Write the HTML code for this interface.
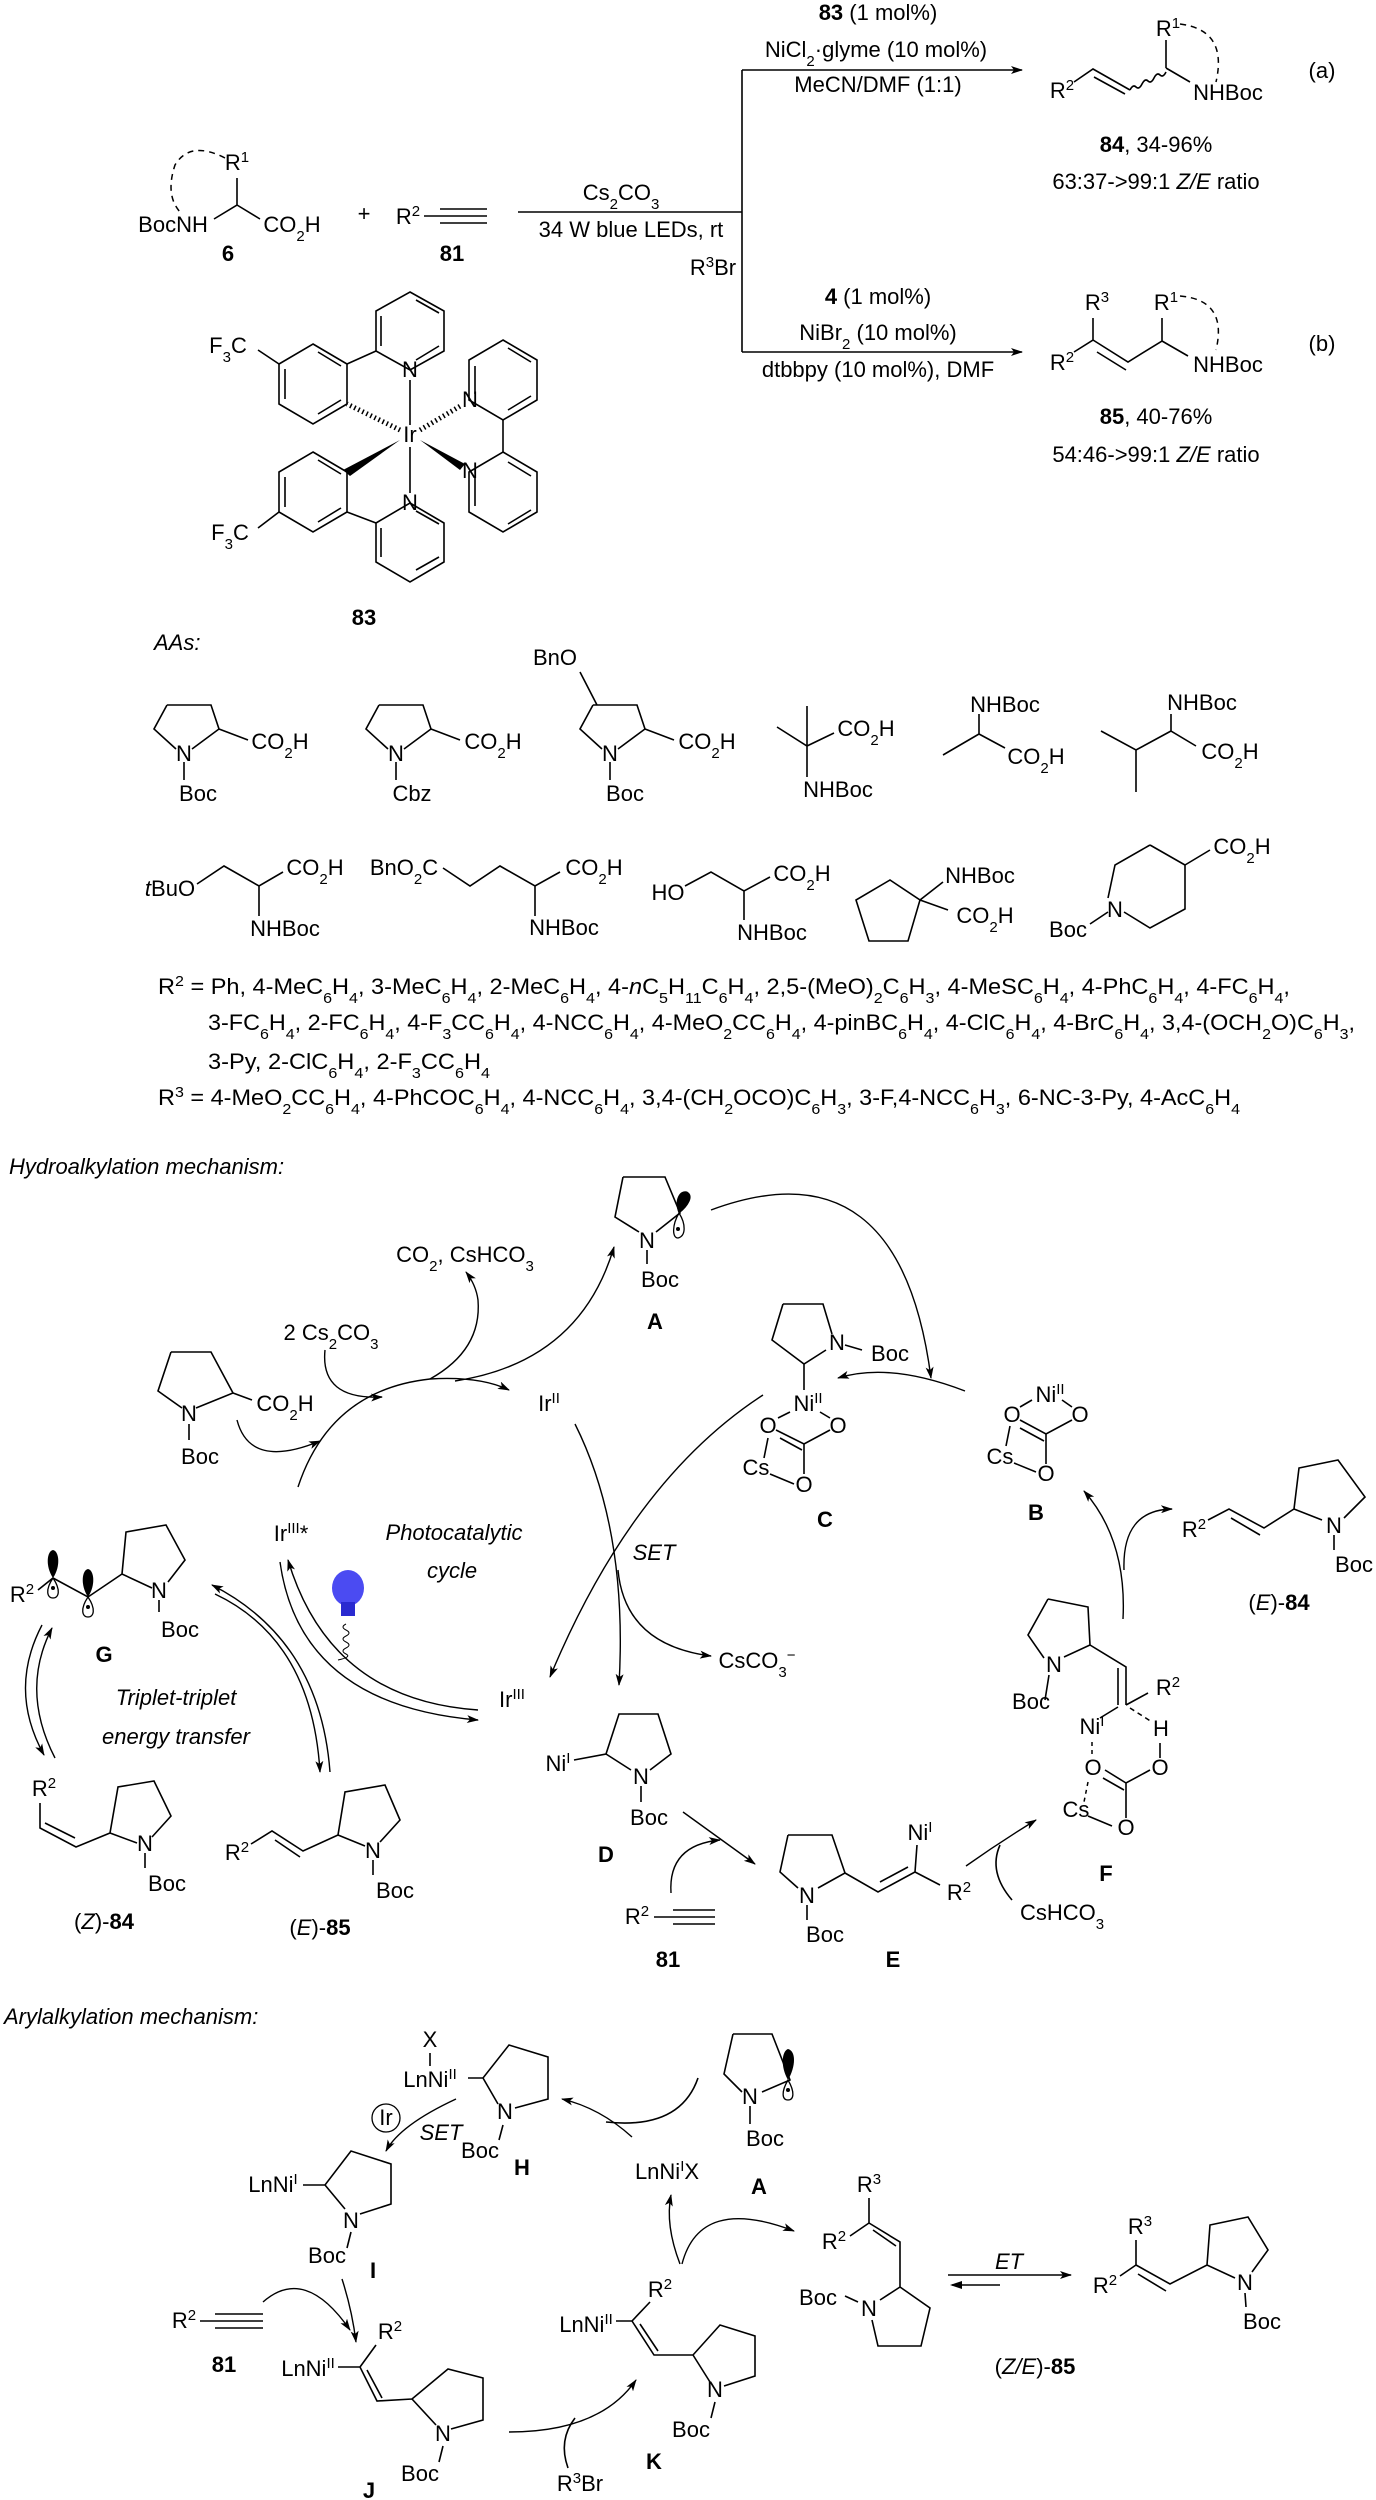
<!DOCTYPE html>
<html><head><meta charset="utf-8"><style>
html,body{margin:0;padding:0;background:#fff}
svg{display:block}
text{font-family:"Liberation Sans",Arial,sans-serif;font-size:22px;fill:#000}
.c{text-anchor:middle}
.i{font-style:italic}
.b{font-weight:bold}
.d{font-size:15px;baseline-shift:sub}
.u{font-size:15px;baseline-shift:super}
.l{fill:none;stroke:#000;stroke-width:1.6}
.a{fill:none;stroke:#000;stroke-width:1.4;marker-end:url(#ar)}
.ds{fill:none;stroke:#000;stroke-width:1.5;stroke-dasharray:6 5}
</style></head><body>
<svg width="1376" height="2500" viewBox="0 0 1376 2500" xmlns="http://www.w3.org/2000/svg">
<defs><marker id="ar" markerWidth="12" markerHeight="8" refX="11" refY="4" orient="auto" markerUnits="userSpaceOnUse"><path d="M0,0 L12,4 L0,8 L3,4z" fill="#000"/></marker></defs>

<!-- ===== Top reaction ===== -->
<text x="878" y="20" class="c"><tspan class="b">83</tspan> (1 mol%)</text>
<text x="876" y="57" class="c">NiCl<tspan class="d">2</tspan><tspan dy="0">·glyme (10 mol%)</tspan></text>
<path class="a" d="M742,70 L1022,70"/>
<text x="878" y="92" class="c">MeCN/DMF (1:1)</text>
<path class="l" d="M742,70 L742,352"/>
<path class="a" d="M518,212 L742,212" style="marker-end:none"/>
<text x="621" y="200" class="c">Cs<tspan class="d">2</tspan>CO<tspan class="d">3</tspan></text>
<text x="631" y="237" class="c">34 W blue LEDs, rt</text>
<text x="713" y="275" class="c">R<tspan class="u">3</tspan>Br</text>
<path class="a" d="M742,352 L1022,352"/>
<text x="878" y="304" class="c"><tspan class="b">4</tspan> (1 mol%)</text>
<text x="878" y="340" class="c">NiBr<tspan class="d">2</tspan> (10 mol%)</text>
<text x="878" y="377" class="c">dtbbpy (10 mol%), DMF</text>

<!-- product 84 -->
<text x="1062" y="98" class="c">R<tspan class="u">2</tspan></text>
<path class="l" d="M1074,82 L1093,69 L1130,90 M1094,77 L1125,94"/>
<path class="l" d="M1130,90 q3,-6 6,-3 t6,-3 t6,-3 t6,-3 t6,-3 t6,-3"/>
<path class="l" d="M1166,68 L1166,40 M1166,68 L1190,82"/>
<text x="1168" y="36" class="c">R<tspan class="u">1</tspan></text>
<text x="1228" y="100" class="c">NHBoc</text>
<path class="ds" d="M1180,24 Q1228,30 1216,82"/>
<text x="1322" y="78" class="c">(a)</text>
<text x="1156" y="152" class="c"><tspan class="b">84</tspan>, 34-96%</text>
<text x="1156" y="189" class="c">63:37-&gt;99:1 <tspan class="i">Z/E</tspan> ratio</text>

<!-- product 85 -->
<text x="1097" y="310" class="c">R<tspan class="u">3</tspan></text>
<text x="1166" y="310" class="c">R<tspan class="u">1</tspan></text>
<text x="1062" y="370" class="c">R<tspan class="u">2</tspan></text>
<text x="1228" y="372" class="c">NHBoc</text>
<path class="l" d="M1093,318 L1093,340 L1074,352 M1093,340 L1128,362 L1162,341 L1162,318 M1162,341 L1188,356 M1097,352 L1126,370"/>
<path class="ds" d="M1180,296 Q1228,300 1216,350"/>
<text x="1322" y="351" class="c">(b)</text>
<text x="1156" y="424" class="c"><tspan class="b">85</tspan>, 40-76%</text>
<text x="1156" y="462" class="c">54:46-&gt;99:1 <tspan class="i">Z/E</tspan> ratio</text>

<!-- compound 6 -->
<text x="237" y="170" class="c">R<tspan class="u">1</tspan></text>
<path class="l" d="M237,178 L237,205 L214,219 M237,205 L260,219"/>
<path class="ds" d="M225,158 Q190,140 175,165 Q165,195 180,212"/>
<text x="173" y="232" class="c">BocNH</text>
<text x="292" y="232" class="c">CO<tspan class="d">2</tspan>H</text>
<text x="228" y="261" class="c b">6</text>
<text x="364" y="221" class="c">+</text>
<text x="408" y="224" class="c">R<tspan class="u">2</tspan></text>
<path class="l" d="M424,216 L440,216 M440,209 L487,209 M440,216 L487,216 M440,223 L487,223"/>
<text x="452" y="261" class="c b">81</text>

<!-- Ir complex 83 -->
<g class="l">
<path d="M410,292 L444,311 L444,351 L410,370 L376,351 L376,311Z M416,300 L439,313 M439,346 L416,360 M381,346 L381,316"/>
<path d="M313,344 L347,364 L347,404 L313,424 L279,404 L279,364Z M318,352 L341,366 M341,400 L318,414 M285,399 L285,369"/>
<path d="M376,351 L347,364 M279,364 L258,350"/>
<path d="M503,340 L537,360 L537,400 L503,420 L469,400 L469,360Z M508,348 L531,362 M531,396 L508,410 M475,366 L475,394"/>
<path d="M503,452 L537,472 L537,512 L503,532 L469,512 L469,472Z M508,524 L531,510 M531,476 L508,462 M475,478 L475,506"/>
<path d="M503,420 L503,452"/>
<path d="M313,452 L347,472 L347,512 L313,532 L279,512 L279,472Z M318,460 L341,474 M341,508 L318,522 M285,507 L285,477"/>
<path d="M279,512 L258,528"/>
<path d="M410,503 L444,523 L444,562 L410,582 L376,562 L376,523Z M416,511 L439,524 M439,557 L416,570 M381,557 L381,528"/>
<path d="M347,512 L376,523"/>
<path d="M410,380 L410,425 M410,447 L410,493"/>
</g>
<path d="M400,430 L347,404" stroke="#000" stroke-width="5" stroke-dasharray="1.5 3" fill="none"/>
<path d="M420,430 L462,405" stroke="#000" stroke-width="5" stroke-dasharray="1.5 3" fill="none"/>
<path d="M400,440 L343,470 L350,476Z" fill="#000"/>
<path d="M420,440 L460,470 L465,464Z" fill="#000"/>
<text x="410" y="442" class="c">Ir</text>
<text x="410" y="377" class="c">N</text>
<text x="470" y="407" class="c">N</text>
<text x="470" y="478" class="c">N</text>
<text x="410" y="510" class="c">N</text>
<text x="228" y="353" class="c">F<tspan class="d">3</tspan>C</text>
<text x="230" y="540" class="c">F<tspan class="d">3</tspan>C</text>
<text x="364" y="625" class="c b">83</text>

<text x="154" y="650" class="i">AAs:</text>

<!-- AA row 1 -->
<path class="l" d="M167,705 L211,705 L219,729 L192,749 M176,749 L154,729 L167,705 M219,729 L248,740 M184,762 L184,780"/>
<text x="184" y="761" class="c">N</text><text x="198" y="801" class="c">Boc</text><text x="280" y="749" class="c">CO<tspan class="d">2</tspan>H</text>
<path class="l" d="M379,705 L423,705 L431,729 L404,749 M388,749 L366,729 L379,705 M431,729 L460,740 M396,762 L396,780"/>
<text x="396" y="761" class="c">N</text><text x="412" y="801" class="c">Cbz</text><text x="493" y="749" class="c">CO<tspan class="d">2</tspan>H</text>
<path class="l" d="M593,705 L637,705 L645,729 L618,749 M602,749 L580,729 L593,705 M645,729 L674,740 M610,762 L610,780 M597,705 L580,672"/>
<text x="610" y="761" class="c">N</text><text x="625" y="801" class="c">Boc</text><text x="707" y="749" class="c">CO<tspan class="d">2</tspan>H</text>
<text x="555" y="665" class="c">BnO</text>
<path class="l" d="M777,727 L807,746 L807,706 M807,746 L834,733 M807,746 L807,777"/>
<text x="866" y="736" class="c">CO<tspan class="d">2</tspan>H</text><text x="838" y="797" class="c">NHBoc</text>
<path class="l" d="M943,755 L979,734 L979,714 M979,734 L1005,748"/>
<text x="1005" y="712" class="c">NHBoc</text><text x="1036" y="764" class="c">CO<tspan class="d">2</tspan>H</text>
<path class="l" d="M1171,714 L1171,731 L1196,746 M1171,731 L1136,750 L1101,731 M1136,750 L1136,792"/>
<text x="1202" y="710" class="c">NHBoc</text><text x="1230" y="759" class="c">CO<tspan class="d">2</tspan>H</text>

<!-- AA row 2 -->
<path class="l" d="M197,884 L224,866 L259,886 L283,872 M259,886 L259,916"/>
<text x="170" y="896" class="c"><tspan class="i">t</tspan>BuO</text><text x="315" y="875" class="c">CO<tspan class="d">2</tspan>H</text><text x="285" y="936" class="c">NHBoc</text>
<path class="l" d="M443,868 L470,886 L500,866 L535,886 L560,872 M535,886 L535,916"/>
<text x="404" y="875" class="c">BnO<tspan class="d">2</tspan>C</text><text x="594" y="875" class="c">CO<tspan class="d">2</tspan>H</text><text x="564" y="935" class="c">NHBoc</text>
<path class="l" d="M685,886 L711,872 L744,891 L770,877 M744,891 L744,920"/>
<text x="668" y="900" class="c">HO</text><text x="802" y="881" class="c">CO<tspan class="d">2</tspan>H</text><text x="772" y="940" class="c">NHBoc</text>
<path class="l" d="M890,880 L920,900 L908,941 L869,941 L856,900Z M920,900 L943,882 M920,900 L948,910"/>
<text x="980" y="883" class="c">NHBoc</text><text x="985" y="923" class="c">CO<tspan class="d">2</tspan>H</text>
<path class="l" d="M1150,845 L1185,865 L1185,909 L1150,928 L1124,912 M1108,898 L1115,865 L1150,845 M1185,865 L1210,850 M1108,912 L1090,924"/>
<text x="1115" y="917" class="c">N</text><text x="1242" y="854" class="c">CO<tspan class="d">2</tspan>H</text><text x="1068" y="937" class="c">Boc</text>

<!-- R lists -->
<text x="158" y="994" textLength="1132" lengthAdjust="spacingAndGlyphs">R<tspan class="u">2</tspan> = Ph, 4-MeC<tspan class="d">6</tspan>H<tspan class="d">4</tspan>, 3-MeC<tspan class="d">6</tspan>H<tspan class="d">4</tspan>, 2-MeC<tspan class="d">6</tspan>H<tspan class="d">4</tspan>, 4-<tspan class="i">n</tspan>C<tspan class="d">5</tspan>H<tspan class="d">11</tspan>C<tspan class="d">6</tspan>H<tspan class="d">4</tspan>, 2,5-(MeO)<tspan class="d">2</tspan>C<tspan class="d">6</tspan>H<tspan class="d">3</tspan>, 4-MeSC<tspan class="d">6</tspan>H<tspan class="d">4</tspan>, 4-PhC<tspan class="d">6</tspan>H<tspan class="d">4</tspan>, 4-FC<tspan class="d">6</tspan>H<tspan class="d">4</tspan>,</text>
<text x="208" y="1030" textLength="1147" lengthAdjust="spacingAndGlyphs">3-FC<tspan class="d">6</tspan>H<tspan class="d">4</tspan>, 2-FC<tspan class="d">6</tspan>H<tspan class="d">4</tspan>, 4-F<tspan class="d">3</tspan>CC<tspan class="d">6</tspan>H<tspan class="d">4</tspan>, 4-NCC<tspan class="d">6</tspan>H<tspan class="d">4</tspan>, 4-MeO<tspan class="d">2</tspan>CC<tspan class="d">6</tspan>H<tspan class="d">4</tspan>, 4-pinBC<tspan class="d">6</tspan>H<tspan class="d">4</tspan>, 4-ClC<tspan class="d">6</tspan>H<tspan class="d">4</tspan>, 4-BrC<tspan class="d">6</tspan>H<tspan class="d">4</tspan>, 3,4-(OCH<tspan class="d">2</tspan>O)C<tspan class="d">6</tspan>H<tspan class="d">3</tspan>,</text>
<text x="208" y="1069" textLength="282" lengthAdjust="spacingAndGlyphs">3-Py, 2-ClC<tspan class="d">6</tspan>H<tspan class="d">4</tspan>, 2-F<tspan class="d">3</tspan>CC<tspan class="d">6</tspan>H<tspan class="d">4</tspan></text>
<text x="158" y="1105" textLength="1082" lengthAdjust="spacingAndGlyphs">R<tspan class="u">3</tspan> = 4-MeO<tspan class="d">2</tspan>CC<tspan class="d">6</tspan>H<tspan class="d">4</tspan>, 4-PhCOC<tspan class="d">6</tspan>H<tspan class="d">4</tspan>, 4-NCC<tspan class="d">6</tspan>H<tspan class="d">4</tspan>, 3,4-(CH<tspan class="d">2</tspan>OCO)C<tspan class="d">6</tspan>H<tspan class="d">3</tspan>, 3-F,4-NCC<tspan class="d">6</tspan>H<tspan class="d">3</tspan>, 6-NC-3-Py, 4-AcC<tspan class="d">6</tspan>H<tspan class="d">4</tspan></text>

<!-- ===== Hydroalkylation ===== -->
<text x="9" y="1174" class="i">Hydroalkylation mechanism:</text>

<!-- A -->
<path class="l" d="M623,1177 L665,1177 L680,1213 L656,1232 M639,1232 L615,1217 L623,1177 M647,1250 L647,1264"/>
<text x="647" y="1248" class="c">N</text><text x="660" y="1287" class="c">Boc</text>
<path d="M679,1213 C674,1200 680,1190 687,1192 C694,1196 688,1206 679,1213Z" fill="#000" stroke="#000"/>
<path d="M679,1213 C672,1225 672,1238 678,1238 C686,1236 686,1224 679,1213Z" fill="none" stroke="#000" stroke-width="1.3"/>
<circle cx="678" cy="1229" r="2" fill="#000"/>
<text x="655" y="1329" class="c b">A</text>

<text x="465" y="1262" class="c">CO<tspan class="d">2</tspan>, CsHCO<tspan class="d">3</tspan></text>
<text x="331" y="1340" class="c">2 Cs<tspan class="d">2</tspan>CO<tspan class="d">3</tspan></text>

<!-- Boc-Pro -->
<path class="l" d="M171,1352 L211,1352 L233,1393 L196,1408 M182,1408 L158,1391 L171,1352 M233,1393 L252,1400 M189,1424 L189,1440"/>
<text x="189" y="1421" class="c">N</text><text x="285" y="1411" class="c">CO<tspan class="d">2</tspan>H</text><text x="200" y="1464" class="c">Boc</text>

<!-- photocycle arrows -->
<path class="a" d="M298,1487 Q330,1390 430,1379 Q480,1376 509,1390"/>
<path class="a" d="M237,1420 Q250,1470 320,1441"/>
<path class="a" d="M325,1350 Q320,1400 382,1397"/>
<path class="a" d="M430,1379 Q482,1350 478,1300 Q476,1285 466,1272"/>
<path class="a" d="M455,1381 Q580,1362 614,1247"/>
<path class="a" d="M711,1210 Q900,1140 931,1378"/>
<path class="a" d="M965,1391 Q890,1362 838,1378"/>
<path class="a" d="M575,1424 Q628,1530 619,1685"/>
<path class="a" d="M618,1570 Q625,1645 711,1656"/>
<path class="a" d="M763,1395 Q632,1480 550,1677"/>
<text x="549" y="1411" class="c">Ir<tspan class="u">II</tspan></text>
<text x="654" y="1560" class="c i">SET</text>
<text x="757" y="1668" class="c">CsCO<tspan class="d">3</tspan><tspan class="u">−</tspan></text>
<text x="512" y="1707" class="c">Ir<tspan class="u">III</tspan></text>
<text x="291" y="1541" class="c">Ir<tspan class="u">III</tspan>*</text>
<text x="454" y="1540" class="c i">Photocatalytic</text>
<text x="452" y="1578" class="c i">cycle</text>
<path class="a" d="M478,1710 Q330,1700 288,1560"/>
<path class="a" d="M280,1562 Q300,1705 478,1720"/>
<path class="a" d="M330,1772 Q320,1640 212,1585"/>
<path class="a" d="M215,1594 Q312,1640 320,1772"/>
<!-- bulb -->
<ellipse cx="348" cy="1588" rx="16" ry="18" fill="#4b4bf2"/>
<rect x="341" y="1602" width="14" height="14" fill="#2a2ad0"/>
<path d="M346,1624 q-6,3 0,6 t0,6 t0,6 t0,6 t0,6 t-8,6" fill="none" stroke="#000" stroke-width="1"/>

<!-- G -->
<text x="22" y="1602" class="c">R<tspan class="u">2</tspan></text>
<path class="l" d="M38,1590 L53,1578 L88,1597 L122,1574 L152,1588 M122,1574 L126,1532 L166,1525 L185,1560 L168,1582 M159,1600 L159,1612"/>
<text x="159" y="1598" class="c">N</text><text x="180" y="1637" class="c">Boc</text>
<path d="M53,1578 C45,1566 47,1551 53,1550 C59,1551 61,1566 53,1578Z" fill="#000"/>
<path d="M53,1578 C45,1590 47,1598 53,1598 C59,1598 61,1590 53,1578Z" fill="none" stroke="#000" stroke-width="1.3"/>
<circle cx="53" cy="1588" r="2" fill="#000"/>
<path d="M88,1597 C80,1585 82,1570 88,1569 C94,1570 96,1585 88,1597Z" fill="#000"/>
<path d="M88,1597 C80,1609 82,1617 88,1617 C94,1617 96,1609 88,1597Z" fill="none" stroke="#000" stroke-width="1.3"/>
<circle cx="88" cy="1607" r="2" fill="#000"/>
<text x="104" y="1662" class="c b">G</text>
<text x="176" y="1705" class="c i">Triplet-triplet</text>
<text x="176" y="1744" class="c i">energy transfer</text>
<path class="a" d="M55,1758 Q20,1690 52,1628"/>
<path class="a" d="M42,1625 Q8,1690 44,1755"/>

<!-- (Z)-84 -->
<text x="44" y="1796" class="c">R<tspan class="u">2</tspan></text>
<path class="l" d="M40,1803 L40,1828 L76,1847 L110,1833 L137,1843 M45,1823 L75,1838 M110,1833 L118,1787 L154,1781 L171,1816 L152,1837 M145,1853 L145,1868"/>
<text x="145" y="1851" class="c">N</text><text x="167" y="1891" class="c">Boc</text>
<text x="104" y="1929" class="c">(<tspan class="i">Z</tspan>)-<tspan class="b">84</tspan></text>

<!-- (E)-85 -->
<text x="237" y="1860" class="c">R<tspan class="u">2</tspan></text>
<path class="l" d="M251,1844 L272,1831 L303,1851 L338,1835 L365,1846 M275,1840 L300,1857 M338,1835 L345,1792 L385,1785 L400,1820 L380,1842 M373,1860 L373,1875"/>
<text x="373" y="1858" class="c">N</text><text x="395" y="1898" class="c">Boc</text>
<text x="320" y="1935" class="c">(<tspan class="i">E</tspan>)-<tspan class="b">85</tspan></text>

<!-- C -->
<path class="l" d="M783,1304 L823,1304 L832,1334 M826,1350 L804,1364 L772,1340 L783,1304 M845,1345 L862,1350 M804,1364 L804,1390"/>
<text x="837" y="1350" class="c">N</text><text x="890" y="1361" class="c">Boc</text>
<text x="808" y="1411" class="c">Ni<tspan class="u">II</tspan></text>
<path class="l" d="M778,1418 L790,1412 M820,1412 L830,1418 M776,1430 L804,1444 L830,1430 M780,1438 L802,1450 M804,1444 L804,1474 M768,1438 L764,1458 M770,1474 L794,1484"/>
<text x="768" y="1433" class="c">O</text><text x="838" y="1433" class="c">O</text>
<text x="756" y="1475" class="c">Cs</text><text x="804" y="1492" class="c">O</text>
<text x="825" y="1527" class="c b">C</text>

<!-- B -->
<text x="1050" y="1402" class="c">Ni<tspan class="u">II</tspan></text>
<path class="l" d="M1020,1407 L1032,1400 M1062,1400 L1072,1407 M1020,1420 L1046,1434 L1072,1420 M1020,1428 L1044,1441 M1046,1434 L1046,1464 M1010,1426 L1006,1446 M1014,1463 L1036,1472"/>
<text x="1012" y="1422" class="c">O</text><text x="1080" y="1422" class="c">O</text>
<text x="1000" y="1464" class="c">Cs</text><text x="1046" y="1481" class="c">O</text>
<text x="1036" y="1520" class="c b">B</text>

<!-- (E)-84 -->
<text x="1194" y="1537" class="c">R<tspan class="u">2</tspan></text>
<path class="l" d="M1208,1520 L1229,1509 L1264,1528 L1294,1509 L1322,1520 M1231,1518 L1260,1535 M1294,1509 L1299,1468 L1338,1460 L1365,1497 L1344,1518 M1334,1535 L1334,1550"/>
<text x="1334" y="1533" class="c">N</text><text x="1354" y="1572" class="c">Boc</text>
<text x="1279" y="1610" class="c">(<tspan class="i">E</tspan>)-<tspan class="b">84</tspan></text>
<path class="a" d="M1123,1619 Q1127,1540 1084,1491"/>
<path class="a" d="M1124,1570 Q1122,1510 1172,1509"/>

<!-- F -->
<path class="l" d="M1048,1599 L1088,1607 L1090,1645 L1064,1657 M1044,1658 L1028,1635 L1048,1599 M1090,1645 L1126,1667 L1126,1705 M1118,1668 L1118,1705 M1126,1705 L1148,1693 M1118,1707 L1100,1718 M1049,1675 L1045,1700"/>
<path class="ds" d="M1130,1708 L1152,1722" style="stroke-dasharray:5 4"/>
<text x="1054" y="1672" class="c">N</text><text x="1031" y="1709" class="c">Boc</text>
<text x="1168" y="1695" class="c">R<tspan class="u">2</tspan></text>
<text x="1092" y="1734" class="c">Ni<tspan class="u">I</tspan></text>
<text x="1161" y="1736" class="c">H</text>
<path class="ds" d="M1092,1742 L1092,1756 M1088,1782 L1084,1802" style="stroke-dasharray:4 4"/>
<path class="l" d="M1160,1743 L1160,1758 M1105,1770 L1126,1783 L1150,1770 M1103,1778 L1124,1790 M1126,1783 L1126,1818 M1088,1816 L1112,1826"/>
<text x="1093" y="1775" class="c">O</text><text x="1160" y="1775" class="c">O</text>
<text x="1076" y="1817" class="c">Cs</text><text x="1126" y="1835" class="c">O</text>
<text x="1106" y="1881" class="c b">F</text>

<!-- D -->
<text x="558" y="1771" class="c">Ni<tspan class="u">I</tspan></text>
<path class="l" d="M574,1760 L606,1754 L619,1714 L658,1714 L671,1754 L650,1770 M631,1770 L606,1754 M641,1786 L641,1802"/>
<text x="641" y="1784" class="c">N</text><text x="649" y="1825" class="c">Boc</text>
<text x="606" y="1862" class="c b">D</text>
<path class="a" d="M683,1812 L755,1864"/>

<!-- 81 alkyne -->
<text x="637" y="1924" class="c">R<tspan class="u">2</tspan></text>
<path class="l" d="M654,1917 L673,1917 M673,1910 L715,1910 M673,1917 L715,1917 M673,1924 L715,1924"/>
<text x="668" y="1967" class="c b">81</text>
<path class="a" d="M671,1893 Q668,1845 720,1840"/>

<!-- E -->
<path class="l" d="M788,1835 L832,1835 L845,1873 L818,1888 M798,1888 L780,1872 L788,1835 M845,1873 L878,1892 L915,1872 L917,1845 M880,1882 L908,1867 M915,1872 L940,1885 M807,1905 L807,1920"/>
<text x="807" y="1903" class="c">N</text><text x="825" y="1942" class="c">Boc</text>
<text x="920" y="1840" class="c">Ni<tspan class="u">I</tspan></text>
<text x="959" y="1900" class="c">R<tspan class="u">2</tspan></text>
<text x="893" y="1967" class="c b">E</text>
<path class="a" d="M966,1866 Q1000,1842 1036,1820"/>
<path class="l" d="M1012,1900 Q988,1872 1000,1845"/>
<text x="1062" y="1920" class="c">CsHCO<tspan class="d">3</tspan></text>

<!-- ===== Arylalkylation ===== -->
<text x="4" y="2024" class="i">Arylalkylation mechanism:</text>

<!-- H -->
<text x="430" y="2047" class="c">X</text>
<path class="l" d="M430,2053 L430,2066 M468,2078 L483,2078 L509,2045 L548,2057 L548,2099 L515,2108 M498,2104 L483,2078 M503,2125 L499,2140"/>
<text x="430" y="2087" class="c">LnNi<tspan class="u">II</tspan></text>
<text x="505" y="2119" class="c">N</text><text x="480" y="2158" class="c">Boc</text>
<text x="522" y="2175" class="c b">H</text>
<circle cx="386" cy="2118" r="14" fill="none" stroke="#000" stroke-width="1.3"/>
<text x="386" y="2125" class="c">Ir</text>
<path class="a" d="M456,2099 Q400,2125 386,2151"/>
<text x="441" y="2140" class="c i">SET</text>

<!-- A (aryl) -->
<path class="l" d="M733,2034 L772,2034 L790,2080 L762,2092 M742,2092 L724,2074 L733,2034 M750,2106 L750,2124"/>
<text x="750" y="2104" class="c">N</text><text x="765" y="2146" class="c">Boc</text>
<path d="M788,2080 C780,2066 782,2051 788,2049 C796,2051 796,2066 788,2080Z" fill="#000"/>
<path d="M788,2080 C781,2092 782,2100 788,2100 C794,2100 795,2092 788,2080Z" fill="none" stroke="#000" stroke-width="1.3"/>
<circle cx="788" cy="2090" r="2" fill="#000"/>
<text x="759" y="2194" class="c b">A</text>
<path class="l" d="M698,2078 Q680,2130 606,2122"/>
<path class="a" d="M632,2137 Q600,2108 562,2099"/>
<text x="667" y="2179" class="c">LnNi<tspan class="u">I</tspan>X</text>

<!-- I -->
<text x="273" y="2192" class="c">LnNi<tspan class="u">I</tspan></text>
<path class="l" d="M303,2185 L325,2185 L351,2151 L391,2164 L391,2204 L360,2214 M345,2209 L325,2185 M351,2232 L347,2248"/>
<text x="351" y="2228" class="c">N</text><text x="327" y="2263" class="c">Boc</text>
<text x="373" y="2278" class="c b">I</text>
<path class="a" d="M342,2279 Q352,2310 356,2342"/>

<!-- 81 -->
<text x="184" y="2328" class="c">R<tspan class="u">2</tspan></text>
<path class="l" d="M200,2321 L215,2321 M215,2314 L263,2314 M215,2321 L263,2321 M215,2328 L263,2328"/>
<text x="224" y="2372" class="c b">81</text>
<path class="a" d="M263,2302 Q305,2265 350,2330"/>

<!-- J -->
<text x="390" y="2339" class="c">R<tspan class="u">2</tspan></text>
<text x="308" y="2376" class="c">LnNi<tspan class="u">II</tspan></text>
<path class="l" d="M338,2367 L360,2367 L377,2401 L412,2399 L448,2369 L483,2378 L483,2420 L451,2429 M436,2425 L412,2399 M360,2367 L376,2345 M367,2370 L382,2398 M443,2446 L439,2462"/>
<text x="443" y="2441" class="c">N</text><text x="420" y="2481" class="c">Boc</text>
<text x="369" y="2498" class="c b">J</text>
<path class="a" d="M509,2432 Q600,2432 636,2380"/>
<path class="l" d="M568,2468 Q558,2440 575,2418"/>
<text x="580" y="2491" class="c">R<tspan class="u">3</tspan>Br</text>

<!-- K -->
<text x="660" y="2297" class="c">R<tspan class="u">2</tspan></text>
<text x="586" y="2332" class="c">LnNi<tspan class="u">II</tspan></text>
<path class="l" d="M616,2321 L632,2321 L654,2355 L693,2355 L720,2325 L755,2336 L755,2376 L724,2386 M710,2382 L693,2355 M632,2321 L650,2302 M640,2324 L658,2351 M715,2402 L711,2418"/>
<text x="715" y="2397" class="c">N</text><text x="691" y="2437" class="c">Boc</text>
<text x="654" y="2469" class="c b">K</text>
<path class="a" d="M680,2264 Q665,2225 671,2195"/>
<path class="a" d="M682,2264 Q700,2195 794,2231"/>

<!-- (Z)-85 product -->
<text x="869" y="2192" class="c">R<tspan class="u">3</tspan></text>
<path class="l" d="M869,2198 L869,2223 L850,2236 M869,2223 L900,2242 L900,2287 L930,2308 L921,2346 L878,2346 L872,2320 M858,2302 L845,2296 M873,2230 L896,2246 M900,2287 L880,2300"/>
<text x="834" y="2249" class="c">R<tspan class="u">2</tspan></text>
<text x="869" y="2316" class="c">N</text>
<text x="818" y="2305" class="c">Boc</text>
<text x="1009" y="2269" class="c i">ET</text>
<path class="a" d="M948,2275 L1071,2275"/>
<path d="M952,2285 L1000,2285" stroke="#000" stroke-width="1.4"/><path d="M950,2285 L962,2281 L962,2289Z" fill="#000"/>
<text x="1035" y="2374" class="c">(<tspan class="i">Z/E</tspan>)-<tspan class="b">85</tspan></text>

<!-- (E)-85 product -->
<text x="1140" y="2234" class="c">R<tspan class="u">3</tspan></text>
<text x="1105" y="2293" class="c">R<tspan class="u">2</tspan></text>
<path class="l" d="M1136,2240 L1136,2265 L1120,2276 M1136,2265 L1170,2284 L1207,2265 L1235,2278 M1138,2274 L1166,2291 M1207,2265 L1210,2225 L1248,2217 L1268,2250 L1252,2272 M1245,2293 L1246,2307"/>
<text x="1245" y="2290" class="c">N</text><text x="1262" y="2329" class="c">Boc</text>
</svg>
</body></html>
